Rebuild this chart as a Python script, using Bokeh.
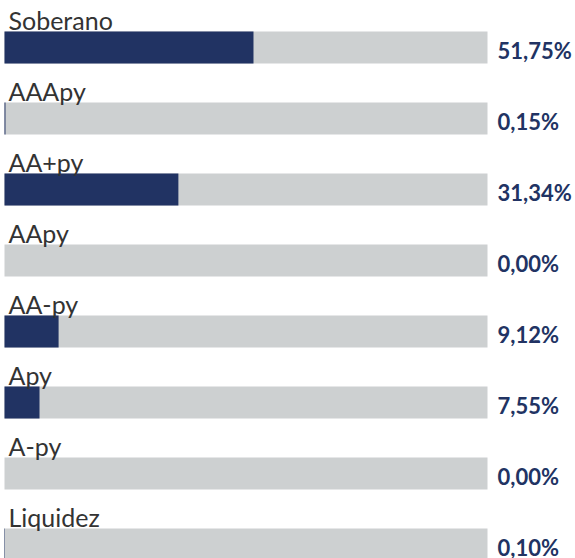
from bokeh.plotting import figure
from bokeh.models import Range1d, ColumnDataSource
from bokeh.core.properties import value
from bokeh.embed import file_html
from bokeh.resources import INLINE

categories = ["Soberano", "AAApy", "AA+py", "AApy", "AA-py", "Apy", "A-py", "Liquidez"]
# bar lengths as drawn in the picture (percent of the full track)
bar_values = [51.55, 0.2, 36.0, 0.0, 11.2, 7.25, 0.0, 0.1]
value_labels = ["51,75%", "0,15%", "31,34%", "0,00%", "9,12%", "7,55%", "0,00%", "0,10%"]

NAVY = "#213363"
GRAY = "#cdd0d1"
TEXT = "#333333"

W, H = 575, 558
PITCH = 71.0          # px per row
BAR_PX = 32.0
FIRST_CENTER = 47.0   # px from top
LEFT_PX = 4.0
FULL_PX = 483.0       # px for 100 %

rows = list(range(len(categories)))
src = ColumnDataSource(dict(
    y=rows,
    cat=categories,
    val=bar_values,
    lab=value_labels,
    full=[100.0] * len(rows),
    zero=[0.0] * len(rows),
    ylab=[r - 28.0 / PITCH for r in rows],
    yval=[r + 3.0 / PITCH for r in rows],
    xval=[100.0 + 10.0 / FULL_PX * 100.0] * len(rows),
))

x_start = -LEFT_PX / FULL_PX * 100.0
x_end = (W - LEFT_PX) / FULL_PX * 100.0
y_top = -FIRST_CENTER / PITCH
y_bottom = (H - FIRST_CENTER) / PITCH

p = figure(width=W, height=H, output_backend="svg", toolbar_location=None,
           x_range=Range1d(x_start, x_end), y_range=Range1d(y_bottom, y_top),
           min_border=0, outline_line_color=None)
p.axis.visible = False
p.grid.visible = False
p.background_fill_color = "white"
p.border_fill_color = "white"

bh = BAR_PX / PITCH
p.hbar(y="y", left="zero", right="full", height=bh, source=src,
       fill_color=GRAY, line_color=None)
p.hbar(y="y", left="zero", right="val", height=bh, source=src,
       fill_color=NAVY, line_color=None)

p.text(x="zero", y="ylab", text="cat", source=src, x_offset=4,
       text_font=value("Lato"), text_font_size="25px", text_color=TEXT,
       text_baseline="alphabetic", text_align="left")
p.text(x="xval", y="yval", text="lab", source=src,
       text_font=value("Lato"), text_font_size="22px", text_font_style="bold",
       text_color=NAVY, text_baseline="alphabetic", text_align="left")

open("out.html", "w").write(file_html(p, INLINE))
